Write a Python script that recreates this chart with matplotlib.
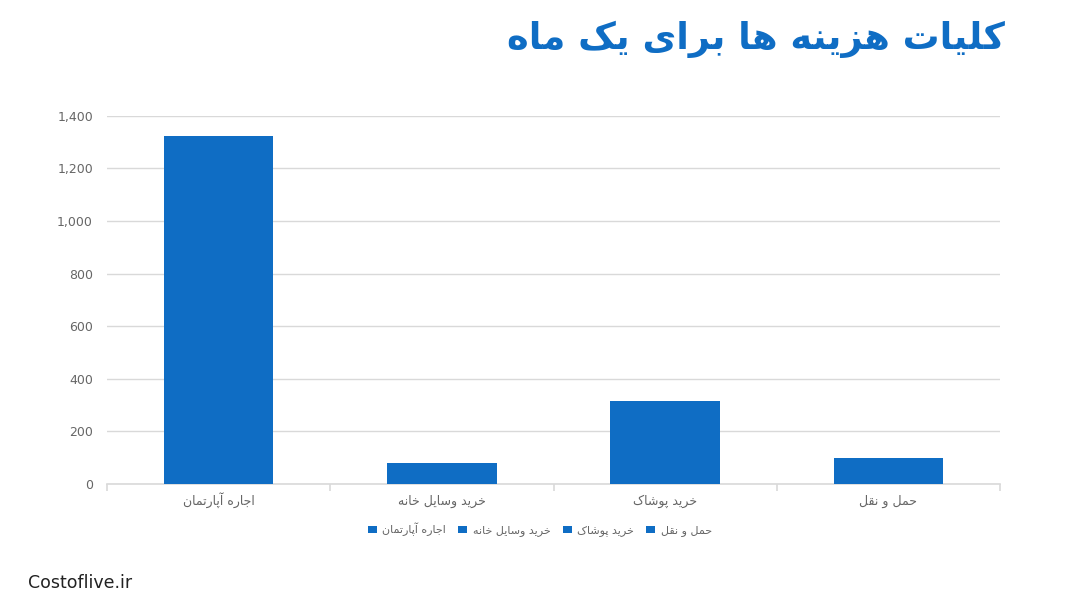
import numpy as np
import matplotlib
matplotlib.use('Agg')
import matplotlib.pyplot as plt
from matplotlib.ticker import FuncFormatter

# forms: isolated, final, initial, medial (None -> letter does not join forward)
FORMS = {
    'ا': ('\uFE8D', '\uFE8E', None, None),
    'آ': ('\uFE81', '\uFE82', None, None),
    'ب': ('\uFE8F', '\uFE90', '\uFE91', '\uFE92'),
    'پ': ('\uFB56', '\uFB57', '\uFB58', '\uFB59'),
    'ت': ('\uFE95', '\uFE96', '\uFE97', '\uFE98'),
    'ج': ('\uFE9D', '\uFE9E', '\uFE9F', '\uFEA0'),
    'ح': ('\uFEA1', '\uFEA2', '\uFEA3', '\uFEA4'),
    'خ': ('\uFEA5', '\uFEA6', '\uFEA7', '\uFEA8'),
    'د': ('\uFEA9', '\uFEAA', None, None),
    'ر': ('\uFEAD', '\uFEAE', None, None),
    'ز': ('\uFEAF', '\uFEB0', None, None),
    'س': ('\uFEB1', '\uFEB2', '\uFEB3', '\uFEB4'),
    'ش': ('\uFEB5', '\uFEB6', '\uFEB7', '\uFEB8'),
    'ق': ('\uFED5', '\uFED6', '\uFED7', '\uFED8'),
    'ک': ('\uFB8E', '\uFB8F', '\uFB90', '\uFB91'),
    'ل': ('\uFEDD', '\uFEDE', '\uFEDF', '\uFEE0'),
    'م': ('\uFEE1', '\uFEE2', '\uFEE3', '\uFEE4'),
    'ن': ('\uFEE5', '\uFEE6', '\uFEE7', '\uFEE8'),
    'ه': ('\uFEE9', '\uFEEA', '\uFEEB', '\uFEEC'),
    'و': ('\uFEED', '\uFEEE', None, None),
    'ی': ('\uFBFC', '\uFBFD', '\uFBFE', '\uFBFF'),
}


def fa(text):
    # simple persian shaping + reverse for right-to-left display
    out = []
    n = len(text)
    for i, ch in enumerate(text):
        if ch not in FORMS:
            out.append(ch)
            continue
        f = FORMS[ch]
        prev = text[i - 1] if i > 0 else ''
        nxt = text[i + 1] if i < n - 1 else ''
        join_prev = prev in FORMS and FORMS[prev][2] is not None
        join_next = f[2] is not None and nxt in FORMS
        if join_prev and join_next:
            out.append(f[3])
        elif join_prev:
            out.append(f[1])
        elif join_next:
            out.append(f[2])
        else:
            out.append(f[0])
    return ''.join(out)[::-1]


TITLE = 'کلیات هزینه ها برای یک ماه'
categories = ['اجاره آپارتمان', 'خرید وسایل خانه', 'خرید پوشاک', 'حمل و نقل']
values = [1325, 80, 315, 100]
yticks = [0, 200, 400, 600, 800, 1000, 1200, 1400]

BLUE = '#0F6DC4'
GRID = '#D9D9D9'
TXT = '#666666'

plt.rcParams['font.family'] = ['DejaVu Sans']

fig = plt.figure(figsize=(10.8, 6.07), dpi=100)
ax = fig.add_axes([0.099, 0.203, 0.827, 0.606])

x = np.arange(len(categories))
bars = ax.bar(x, values, width=0.49, color=BLUE, zorder=3)

ax.set_xlim(-0.5, len(categories) - 0.5)
ax.set_ylim(0, 1400)
ax.set_yticks(yticks)
ax.yaxis.set_major_formatter(FuncFormatter(lambda v, p: f'{int(v):,}'))
ax.grid(axis='y', color=GRID, linewidth=1, zorder=0)

for s in ['top', 'right', 'left']:
    ax.spines[s].set_visible(False)
ax.spines['bottom'].set_color(GRID)
ax.spines['bottom'].set_linewidth(1.2)

ax.set_xticks(x)
ax.set_xticklabels([fa(c) for c in categories])
for lbl in ax.get_xticklabels():
    lbl.set_verticalalignment('baseline')
ax.set_xticks(np.arange(-0.5, len(categories)), minor=True)
ax.tick_params(axis='x', which='major', length=0, pad=15, labelsize=9, labelcolor=TXT)
ax.tick_params(axis='x', which='minor', length=5, color=GRID, width=1.2)
ax.tick_params(axis='y', length=0, pad=10, labelsize=9, labelcolor=TXT)

fig.legend(bars, [fa(c) for c in categories], loc='center', bbox_to_anchor=(0.5, 0.128),
           ncol=4, frameon=False, fontsize=8, labelcolor=TXT,
           handlelength=0.8, handleheight=0.6, handletextpad=0.5, columnspacing=1.1)

fig.text(0.93, 0.935, fa(TITLE), ha='right', va='center', fontsize=26.5,
         fontweight='bold', color=BLUE)
fig.text(0.026, 0.04, 'Costoflive.ir', ha='left', va='center', fontsize=12.5, color='#222222')

fig.savefig('out.png', dpi=100, facecolor='white')
